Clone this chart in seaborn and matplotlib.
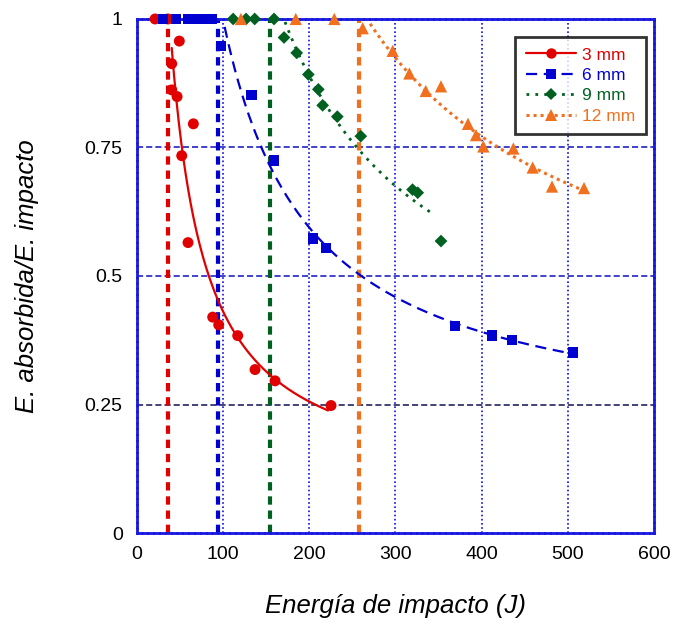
import numpy as np
import pandas as pd
import seaborn as sns
import matplotlib
matplotlib.use("Agg")
import matplotlib.pyplot as plt
from matplotlib.lines import Line2D

# ---------------- data ----------------
labels = ["3 mm", "6 mm", "9 mm", "12 mm"]

x_3mm = [21.5, 36.5, 40.8, 40.8, 47.0, 49.6, 52.4, 59.7, 65.9, 88.3, 95.3, 117.3, 137.4, 160.6, 225.5]
y_3mm = [1.0, 1.0, 0.913, 0.862, 0.849, 0.957, 0.734, 0.565, 0.796, 0.420, 0.405, 0.384, 0.318, 0.296, 0.248]

x_6mm = [30.7, 45.8, 59.7, 70.0, 79.4, 87.5, 98.0, 133.5, 159.4, 204.3, 219.7, 369.3, 412.2, 435.0, 506.0]
y_6mm = [1.0, 1.0, 1.0, 1.0, 1.0, 1.0, 0.947, 0.852, 0.725, 0.573, 0.555, 0.403, 0.384, 0.375, 0.351]

x_9mm = [112.0, 127.0, 137.0, 159.4, 171.0, 185.7, 199.2, 210.8, 215.8, 232.8, 260.0, 320.0, 326.0, 353.0]
y_9mm = [1.0, 1.0, 1.0, 1.0, 0.964, 0.934, 0.892, 0.863, 0.832, 0.810, 0.772, 0.668, 0.662, 0.568]

x_12mm = [121.0, 184.6, 229.3, 262.2, 297.0, 316.3, 335.3, 353.0, 384.3, 393.6, 402.1, 436.9, 459.3, 481.7, 518.8]
y_12mm = [1.0, 1.0, 1.0, 0.982, 0.938, 0.894, 0.860, 0.869, 0.796, 0.774, 0.752, 0.748, 0.711, 0.674, 0.671]

# energy thresholds (vertical dashed lines)
thresholds = [36.9, 94.0, 154.8, 258.4]
# x range covered by each trend curve
fit_ranges = [(40.8, 222.0), (98.0, 500.0), (165.0, 341.0), (262.0, 518.8)]

x_ticks = [0, 100, 200, 300, 400, 500, 600]
y_ticks = [0, 0.25, 0.5, 0.75, 1]
y_tick_labels = ["0", "0.25", "0.5", "0.75", "1"]

# ---------------- style ----------------
colors = ["#E00000", "#0000D0", "#006020", "#F07020"]
markers = ["o", "s", "D", "^"]
sizes = [62, 56, 42, 78]
line_styles = ["-", (0, (5, 3)), (0, (1, 2.2)), (0, (1, 1.3))]
line_widths = [1.6, 1.6, 2.0, 2.2]

sns.set_theme(style="white")
plt.rcParams["font.family"] = ["Liberation Sans", "DejaVu Sans"]

fig = plt.figure(figsize=(6.84, 6.24), dpi=100)
ax = fig.add_axes([0.1996, 0.1458, 0.7566, 0.8238])

series = [(x_3mm, y_3mm), (x_6mm, y_6mm), (x_9mm, y_9mm), (x_12mm, y_12mm)]

# grid
for gx in x_ticks[1:-1]:
    ax.axvline(gx, color="#1010D8", lw=1.2, ls=(0, (1, 1.5)), zorder=0.5)
for gy in y_ticks[1:-1]:
    ax.axhline(gy, color="#1010C0" if gy > 0.3 else "#101050", lw=1.1,
               ls=(0, (4, 2)), zorder=0.5)

# vertical threshold lines
for t, c in zip(thresholds, colors):
    thr = pd.DataFrame({"x": [t, t], "y": [0, 1]})
    sns.lineplot(data=thr, x="x", y="y", ax=ax, color=c, lw=3,
                 linestyle=(0, (2, 1.4)), estimator=None, sort=False, zorder=1)

# trend curves: linear fit of absorbed energy (ratio * impact energy)
# against impact energy, for the points below 1, shown as a ratio
for (xs, ys), (x0, x1), c, lsty, lw in zip(series, fit_ranges, colors, line_styles, line_widths):
    xs = np.asarray(xs)
    ys = np.asarray(ys)
    m = ys < 1
    slope, icpt = np.polyfit(xs[m], xs[m] * ys[m], 1)
    xf = np.linspace(x0, x1, 200)
    fit = pd.DataFrame({"x": xf, "y": (slope * xf + icpt) / xf})
    sns.lineplot(data=fit, x="x", y="y", ax=ax, color=c, lw=lw,
                 linestyle=lsty, estimator=None, sort=False, zorder=2)

# data points
for (xs, ys), c, mk, s in zip(series, colors, markers, sizes):
    pts = pd.DataFrame({"x": xs, "y": ys})
    sns.scatterplot(data=pts, x="x", y="y", ax=ax, color=c, marker=mk, s=s,
                    edgecolor="none", linewidth=0, zorder=3, clip_on=False)

ax.set_xlim(0, 600)
ax.set_ylim(0, 1)
ax.set_xticks(x_ticks)
ax.set_yticks(y_ticks)
ax.set_yticklabels(y_tick_labels)
ax.tick_params(axis="both", direction="in", length=3, color="#1010D8",
               labelsize=14, labelcolor="black")
ax.tick_params(axis="y", pad=10)
ax.tick_params(axis="x", pad=9)

for sp in ax.spines.values():
    sp.set_color("#1818E0")
    sp.set_linewidth(2)
    sp.set_linestyle((0, (1.5, 0.6)))

ax.set_xlabel("Energía de impacto (J)", fontsize=18.5, style="italic",
              labelpad=23, color="black")
ax.set_ylabel("E. absorbida/E. impacto", fontsize=18.5, style="italic",
              labelpad=33, color="black")

handles = [Line2D([0], [0], color=c, ls=lsty, lw=lw, marker=mk,
                  markersize=np.sqrt(s) * 0.95, markeredgewidth=0)
           for c, lsty, lw, mk, s in zip(colors, line_styles, line_widths, markers, sizes)]
leg = ax.legend(handles, labels, loc="upper right", bbox_to_anchor=(0.984, 0.965),
                borderaxespad=0, fontsize=12.5, frameon=True, fancybox=False,
                handlelength=2.9, handletextpad=0.35, labelspacing=0.3,
                borderpad=0.6)
leg.get_frame().set_edgecolor("black")
leg.get_frame().set_linewidth(2)
for txt, c in zip(leg.get_texts(), colors):
    txt.set_color(c)

fig.savefig("out.png", dpi=100)
